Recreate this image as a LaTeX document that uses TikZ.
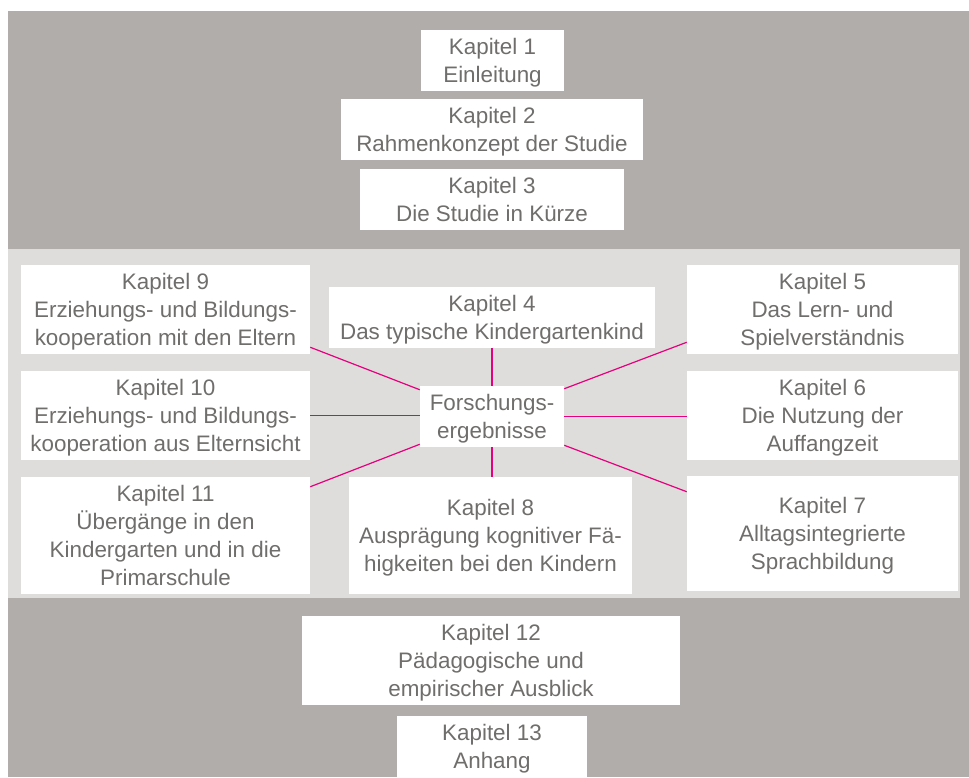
\documentclass[tikz,border=0pt]{standalone}
\usepackage{fontspec}
\setmainfont{Liberation Sans}
\usetikzlibrary{calc}
\definecolor{darkbg}{HTML}{B1ADAA}
\definecolor{lightbg}{HTML}{DFDDDC}
\definecolor{txtgray}{HTML}{706E6C}
\definecolor{mag}{HTML}{E5007D}
\begin{document}
\begin{tikzpicture}[x=0.75pt,y=-0.75pt,
  box/.style={fill=white,draw=none,inner sep=0pt,align=center,text=txtgray,text depth=0pt,
    font=\fontsize{16.8pt}{21pt}\selectfont},
  link/.style={draw=mag,line width=0.9pt}]
\useasboundingbox (0,0) rectangle (969,777);
\fill[white] (0,0) rectangle (969,777);
\fill[darkbg] (8,11) rectangle (969,777);
\fill[lightbg] (8,249) rectangle (960,598);
% top
\node[box,minimum width=143*0.75pt,minimum height=61*0.75pt] (k1) at (492.5,60.5) {Kapitel 1\\Einleitung};
\node[box,minimum width=302*0.75pt,minimum height=61*0.75pt] (k2) at (492,129.5) {Kapitel 2\\Rahmenkonzept der Studie};
\node[box,minimum width=264*0.75pt,minimum height=61*0.75pt] (k3) at (492,199.5) {Kapitel 3\\Die Studie in Kürze};
% middle
\node[box,minimum width=289*0.75pt,minimum height=89*0.75pt] (k9) at (165.5,309.5) {Kapitel 9\\Erziehungs- und Bildungs-\\kooperation mit den Eltern};
\node[box,minimum width=289*0.75pt,minimum height=89*0.75pt] (k10) at (165.5,415.5) {Kapitel 10\\Erziehungs- und Bildungs-\\kooperation aus Elternsicht};
\node[box,minimum width=289*0.75pt,minimum height=117*0.75pt] (k11) at (165.5,535.5) {Kapitel 11\\Übergänge in den\\Kindergarten und in die\\Primarschule};
\node[box,minimum width=326*0.75pt,minimum height=61*0.75pt] (k4) at (492,317.5) {Kapitel 4\\Das typische Kindergartenkind};
\node[box,minimum width=144*0.75pt,minimum height=61*0.75pt] (c) at (492,416.5) {Forschungs-\\ergebnisse};
\node[box,minimum width=283*0.75pt,minimum height=117*0.75pt] (k8) at (490.5,535.5) {Kapitel 8\\Ausprägung kognitiver Fä-\\higkeiten bei den Kindern};
\node[box,minimum width=271*0.75pt,minimum height=89*0.75pt] (k5) at (822.5,309.5) {Kapitel 5\\Das Lern- und\\Spielverständnis};
\node[box,minimum width=271*0.75pt,minimum height=89*0.75pt] (k6) at (822.5,415.5) {Kapitel 6\\Die Nutzung der\\Auffangzeit};
\node[box,minimum width=271*0.75pt,minimum height=115*0.75pt] (k7) at (822.5,533.5) {Kapitel 7\\Alltagsintegrierte\\Sprachbildung};
% bottom
\node[box,minimum width=378*0.75pt,minimum height=89*0.75pt] (k12) at (491,660.5) {Kapitel 12\\Pädagogische und\\empirischer Ausblick};
\node[box,minimum width=190*0.75pt,minimum height=61*0.75pt] (k13) at (492,746.5) {Kapitel 13\\Anhang};
% links
\draw[link] ($(k9.south east)+(0,-7)$) -- ($(c.north west)+(0,4)$);
\draw[link] (k10.east) -- (k10.east -| c.west);
\draw[link] ($(k11.north east)+(0,10)$) -- ($(c.south west)+(0,-3)$);
\draw[link] (c.north) -- (c.north |- k4.south);
\draw[link] (c.south) -- (c.south |- k8.north);
\draw[link] ($(k5.south west)+(0,-12)$) -- ($(c.north east)+(0,3)$);
\draw[link] (c.east) -- (c.east -| k6.west);
\draw[link] ($(k7.north west)+(0,16)$) -- ($(c.south east)+(0,-2)$);
\end{tikzpicture}
\end{document}
